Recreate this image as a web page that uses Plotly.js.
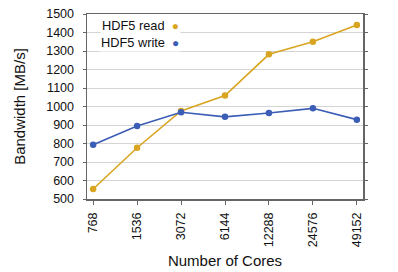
<!DOCTYPE html>
<html>
<head>
<meta charset="utf-8">
<script src="https://cdn.plot.ly/plotly-3.0.1.min.js"></script>
<style>html,body{margin:0;padding:0;background:#fff;}#chart{width:398px;height:272px;}</style>
</head>
<body>
<div id="chart"></div>
<script>
var cores = ["768", "1536", "3072", "6144", "12288", "24576", "49152"];
var readBW = [554, 777, 976, 1059, 1282, 1350, 1441];
var writeBW = [793, 894, 969, 944, 965, 990, 929];
var seriesNames = ["HDF5 read", "HDF5 write"];
var seriesColors = ["#D9A521", "#3B5DB5"];

var traces = [
  {x: cores, y: readBW, name: seriesNames[0], type: "scatter", mode: "lines+markers",
   line: {color: seriesColors[0], width: 1.6}, marker: {color: seriesColors[0], size: 6.5}},
  {x: cores, y: writeBW, name: seriesNames[1], type: "scatter", mode: "lines+markers",
   line: {color: seriesColors[1], width: 1.6}, marker: {color: seriesColors[1], size: 6.5}}
];

var font = "Liberation Sans, Arial, sans-serif";
var layout = {
  width: 398, height: 272,
  margin: {l: 87, r: 35, t: 14, b: 73},
  paper_bgcolor: "#fff", plot_bgcolor: "#fff",
  showlegend: false,
  font: {family: font, size: 12, color: "#111"},
  xaxis: {
    type: "category", range: [-0.14, 6.14],
    tickangle: -90, ticks: "outside", ticklen: 4, tickcolor: "#666",
    ticklabelstandoff: 3,
    showline: true, linecolor: "#666", linewidth: 1.5, mirror: true,
    showgrid: false, zeroline: false,
    tickfont: {family: font, size: 12.5, color: "#111"},
    title: {text: "Number of Cores", font: {family: font, size: 15, color: "#111"}, standoff: 9}
  },
  yaxis: {
    range: [500, 1500], dtick: 100,
    ticks: "outside", ticklen: 3, tickcolor: "#666",
    ticklabelstandoff: 6,
    showline: true, linecolor: "#666", linewidth: 1.5, mirror: "ticks",
    showgrid: true, gridcolor: "#d4d4d4", zeroline: false,
    tickfont: {family: font, size: 12.5, color: "#111"},
    title: {text: "Bandwidth [MB/s]", font: {family: font, size: 15, color: "#111"}, standoff: 17}
  },
  annotations: [
    {xref: "paper", yref: "paper", x: 0.34, y: 0.94, xanchor: "right", yanchor: "middle", showarrow: false,
     text: seriesNames[0] + '  <span style="color:' + seriesColors[0] + ';font-size:12px">●</span>',
     font: {family: font, size: 12.8, color: "#111"}, bgcolor: "#fff"},
    {xref: "paper", yref: "paper", x: 0.34, y: 0.845, xanchor: "right", yanchor: "middle", showarrow: false,
     text: seriesNames[1] + '  <span style="color:' + seriesColors[1] + ';font-size:12px">●</span>',
     font: {family: font, size: 12.8, color: "#111"}, bgcolor: "#fff"}
  ]
};

Plotly.newPlot("chart", traces, layout, {displayModeBar: false, staticPlot: true});
</script>
</body>
</html>
